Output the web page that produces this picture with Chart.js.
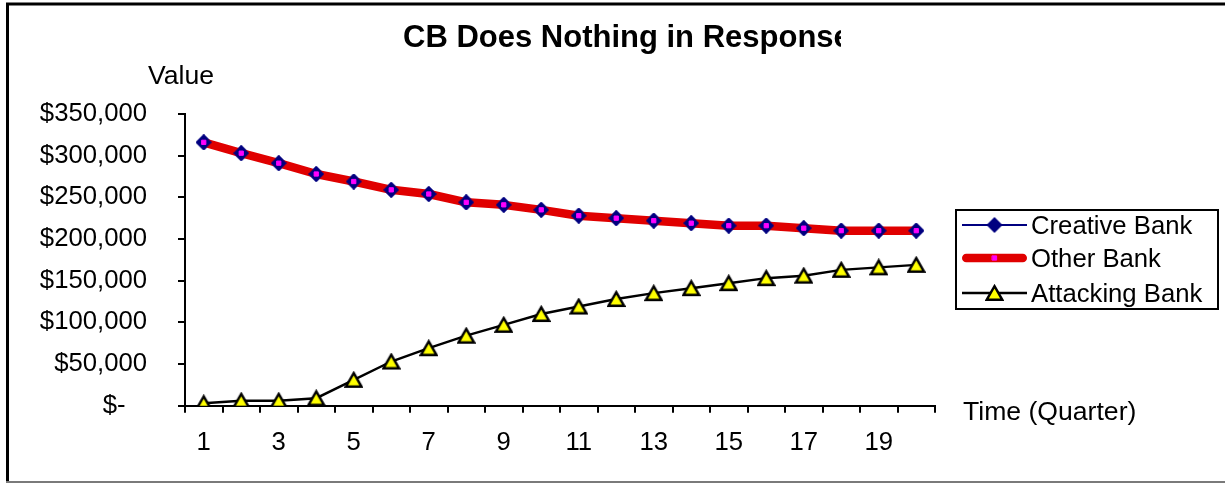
<!DOCTYPE html>
<html>
<head>
<meta charset="utf-8">
<title>CB Does Nothing in Response</title>
<script src="https://cdn.jsdelivr.net/npm/chart.js@4/dist/chart.umd.min.js"></script>
<style>
  html, body { margin: 0; padding: 0; background: #fff; overflow: hidden; }
  canvas { display: block; }
</style>
</head>
<body>
<canvas id="chart" width="1225" height="484"></canvas>
<script>
// Quarters on the x axis
const quarters = ['1','2','3','4','5','6','7','8','9','10','11','12','13','14','15','16','17','18','19','20'];

// Bank values per quarter
const creativeBank = [316000, 303000, 291000, 278000, 269000, 259000, 254000, 244000, 241000, 235000,
                      228000, 225000, 222000, 219000, 216000, 216000, 213000, 210000, 210000, 210000];
const otherBank    = [316000, 303000, 291000, 278000, 269000, 259000, 254000, 244000, 241000, 235000,
                      228000, 225000, 222000, 219000, 216000, 216000, 213000, 210000, 210000, 210000];
const attackingBank = [3000, 6000, 6000, 9000, 31000, 53000, 69000, 84000, 97000, 110000,
                       119000, 128000, 135000, 141000, 147000, 153000, 156000, 163000, 166000, 169000];

// Value axis ticks
const valueTicks = [0, 50000, 100000, 150000, 200000, 250000, 300000, 350000];

const chartTitle = 'CB Does Nothing in Response';
const yAxisTitle = 'Value';
const xAxisTitle = 'Time (Quarter)';

const FONT = "'Liberation Sans', Arial, sans-serif";
const FONT_SIZE = 25.7;
const AXIS_TITLE_SIZE = 26.6;

// Yellow triangle marker with a black outline, centred on its bounding box
function makeTriangle() {
  const c = document.createElement('canvas');
  c.width = 19; c.height = 18;
  const g = c.getContext('2d');
  g.lineJoin = 'miter';
  g.beginPath();
  g.moveTo(9.5, 2.2);
  g.lineTo(17.3, 15.8);
  g.lineTo(1.7, 15.8);
  g.closePath();
  g.fillStyle = '#FFFF00';
  g.fill();
  g.lineWidth = 2.4;
  g.strokeStyle = '#000';
  g.stroke();
  return c;
}

// Solid navy diamond marker
function makeDiamond() {
  const c = document.createElement('canvas');
  c.width = 16; c.height = 16;
  const g = c.getContext('2d');
  g.beginPath();
  g.moveTo(8, 0);
  g.lineTo(16, 8);
  g.lineTo(8, 16);
  g.lineTo(0, 8);
  g.closePath();
  g.fillStyle = '#000080';
  g.fill();
  return c;
}

const triangleMarker = makeTriangle();
const diamondMarker = makeDiamond();

// White page with the frame around the chart
const frame = {
  id: 'frame',
  beforeDraw(chart) {
    const ctx = chart.ctx;
    ctx.save();
    ctx.fillStyle = '#fff';
    ctx.fillRect(0, 0, chart.width, chart.height);
    ctx.strokeStyle = '#000';
    ctx.lineWidth = 3;
    ctx.beginPath();
    ctx.moveTo(7.5, 482);
    ctx.lineTo(7.5, 4);
    ctx.lineTo(1230, 4);
    ctx.stroke();
    ctx.strokeStyle = '#7a7a7a';
    ctx.lineWidth = 2;
    ctx.beginPath();
    ctx.moveTo(6, 482);
    ctx.lineTo(1230, 482);
    ctx.stroke();
    ctx.restore();
  }
};

// Markers of the two upper series sit above the thick red line
const markersOnTop = {
  id: 'markersOnTop',
  afterDatasetsDraw(chart) {
    const ctx = chart.ctx;
    [0, 1].forEach(i => {
      chart.getDatasetMeta(i).data.forEach(pt => pt.draw(ctx, chart.chartArea));
    });
  }
};

// Title, axis titles and the boxed legend
const annotations = {
  id: 'annotations',
  afterDraw(chart) {
    const ctx = chart.ctx;
    ctx.save();
    ctx.fillStyle = '#000';
    ctx.textBaseline = 'alphabetic';
    ctx.textAlign = 'left';

    // title (its text box ends before the last letter)
    ctx.save();
    ctx.beginPath();
    ctx.rect(0, 0, 841, 80);
    ctx.clip();
    ctx.font = 'bold 31px ' + FONT;
    ctx.fillText(chartTitle, 403, 47);
    ctx.restore();

    ctx.font = AXIS_TITLE_SIZE + 'px ' + FONT;
    ctx.fillText(yAxisTitle, 148, 83.5);
    ctx.fillText(xAxisTitle, 963, 419.5);

    // legend
    ctx.lineWidth = 2;
    ctx.strokeStyle = '#000';
    ctx.strokeRect(956, 210, 262, 99);
    const rows = [225, 258, 293];
    chart.data.datasets.forEach((ds, i) => {
      const y = rows[i];
      ctx.save();
      ctx.strokeStyle = ds.borderColor;
      ctx.lineWidth = ds.borderWidth;
      ctx.lineCap = ds.borderCapStyle || 'butt';
      const inset = ctx.lineCap === 'round' ? ds.borderWidth / 2 : 0;
      ctx.beginPath();
      ctx.moveTo(962 + inset, y);
      ctx.lineTo(1027 - inset, y);
      ctx.stroke();
      ctx.fillStyle = ds.pointBackgroundColor;
      ctx.strokeStyle = ds.pointBorderColor;
      ctx.lineWidth = ds.pointBorderWidth;
      Chart.helpers.drawPoint(ctx, {
        pointStyle: ds.pointStyle,
        radius: ds.pointRadius,
        rotation: 0,
        borderWidth: ds.pointBorderWidth
      }, 994.5, y);
      ctx.restore();
      ctx.fillStyle = '#000';
      ctx.font = FONT_SIZE + 'px ' + FONT;
      ctx.fillText(ds.label, 1031, y + 9.2);
    });
    ctx.restore();
  }
};

Chart.defaults.font.family = FONT;
Chart.defaults.font.size = FONT_SIZE;
Chart.defaults.color = '#000';

new Chart(document.getElementById('chart'), {
  type: 'line',
  data: {
    labels: quarters,
    datasets: [
      {
        label: 'Creative Bank',
        data: creativeBank,
        order: 3,
        borderColor: '#000080',
        borderWidth: 2,
        pointStyle: diamondMarker,
        pointRadius: 8,
        pointBackgroundColor: '#000080',
        pointBorderColor: '#000080',
        pointBorderWidth: 0,
        tension: 0
      },
      {
        label: 'Other Bank',
        data: otherBank,
        order: 2,
        borderColor: '#E00000',
        borderWidth: 8.5,
        borderCapStyle: 'round',
        borderJoinStyle: 'round',
        pointStyle: 'rect',
        pointRadius: 3,
        pointBackgroundColor: '#FF00FF',
        pointBorderColor: '#FF00FF',
        pointBorderWidth: 1,
        tension: 0
      },
      {
        label: 'Attacking Bank',
        data: attackingBank,
        order: 1,
        borderColor: '#000',
        borderWidth: 2.4,
        pointStyle: triangleMarker,
        pointRadius: 8,
        pointBackgroundColor: '#FFFF00',
        pointBorderColor: '#000',
        pointBorderWidth: 2,
        tension: 0
      }
    ]
  },
  options: {
    responsive: false,
    animation: false,
    devicePixelRatio: 1,
    events: [],
    layout: { padding: { top: 114, right: 290, bottom: 0, left: 0 } },
    plugins: {
      legend: { display: false },
      title: { display: false },
      tooltip: { enabled: false }
    },
    scales: {
      x: {
        type: 'category',
        offset: true,
        afterFit(scale) { scale.height = 78.3; },
        grid: {
          offset: true,
          drawOnChartArea: false,
          drawTicks: true,
          tickLength: 7,
          color: '#000',
          lineWidth: 2
        },
        border: { display: true, color: '#000', width: 2 },
        ticks: {
          autoSkip: false,
          maxRotation: 0,
          minRotation: 0,
          padding: 15,
          callback(value, index) {
            return index % 2 === 0 ? quarters[index] : '';
          }
        }
      },
      y: {
        min: valueTicks[0],
        max: valueTicks[valueTicks.length - 1],
        afterFit(scale) { scale.width = 185; },
        afterBuildTicks(scale) { scale.ticks = valueTicks.map(v => ({ value: v })); },
        grid: {
          drawOnChartArea: false,
          drawTicks: true,
          tickLength: 7,
          color: '#000',
          lineWidth: 2
        },
        border: { display: true, color: '#000', width: 2 },
        ticks: {
          padding: 31,
          callback(value) {
            return value === 0 ? '$-   ' : '$' + value.toLocaleString('en-US');
          }
        }
      }
    }
  },
  plugins: [frame, markersOnTop, annotations]
});
</script>
</body>
</html>
